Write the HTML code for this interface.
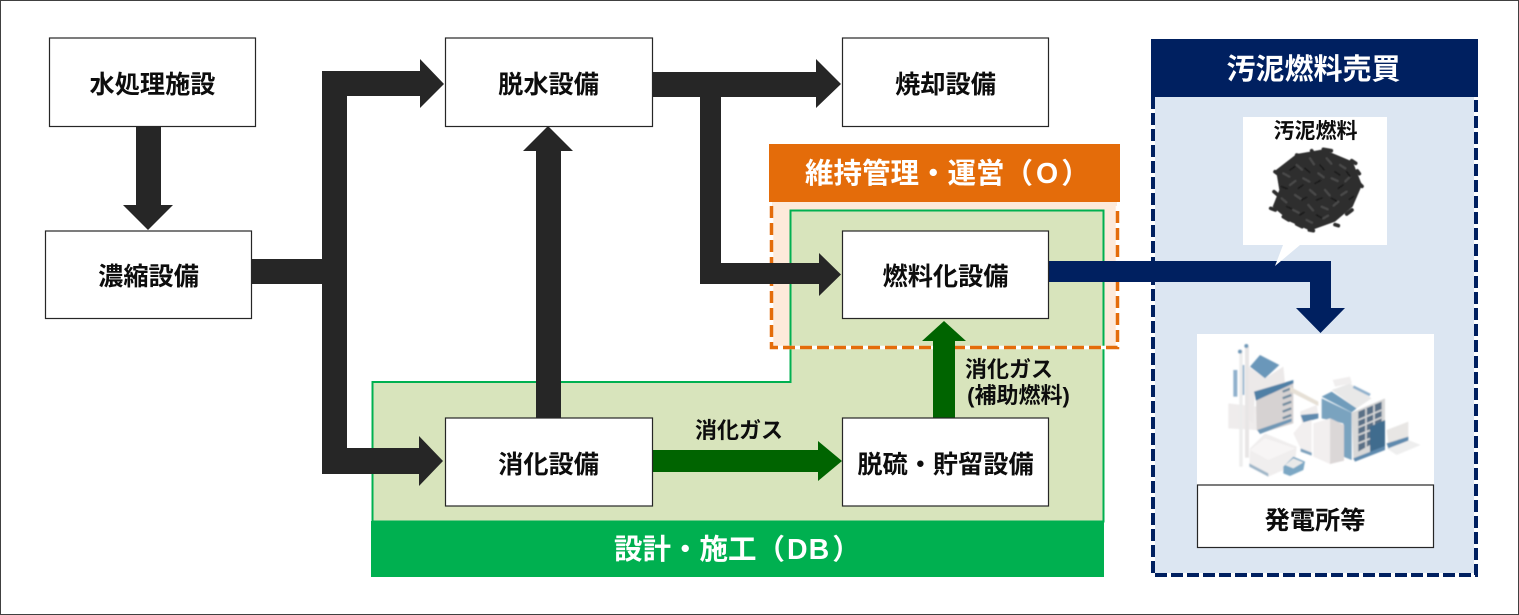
<!DOCTYPE html>
<html lang="ja"><head><meta charset="utf-8"><title>汚泥燃料化 事業スキーム</title>
<style>
html,body{margin:0;padding:0;background:#fff;width:1519px;height:615px;overflow:hidden}
svg{display:block}
text{font-family:"Liberation Sans","Noto Sans CJK JP",sans-serif;font-weight:700;text-anchor:middle}
.b{font-size:25.2px;fill:#0d0d0d}
.s{font-size:22px;fill:#0d0d0d}
.h{fill:#fff}
.st{text-anchor:start}
.box{fill:#fff;stroke:#262626;stroke-width:1.2}
</style></head><body>
<svg width="1519" height="615" viewBox="0 0 1519 615" xmlns="http://www.w3.org/2000/svg">
<defs>
<filter id="bl" x="-5%" y="-5%" width="110%" height="110%"><feGaussianBlur stdDeviation="2.4"/></filter>
<filter id="bp" x="-5%" y="-5%" width="110%" height="110%"><feGaussianBlur stdDeviation="1.6"/></filter>
</defs>
<rect x="0.5" y="0.5" width="1518" height="614" fill="#fff" stroke="#404040"/>

<!-- orange section -->
<rect x="772" y="202" width="345" height="146" fill="#FDEADA"/>
<!-- green section -->
<path d="M372.5 382H790.5V210.5H1103.5V521.5H372.5Z" fill="#D8E4BC" stroke="#00B050" stroke-width="2"/>
<rect x="371" y="521" width="733" height="56" fill="#00B050"/>
<!-- orange dashed: left, bottom, right -->
<path d="M771.500 206V347.500H1117.500V206" fill="none" stroke="#fff" stroke-width="3.500"/>
<path d="M771.500 206V347.500H1117.500V206" fill="none" stroke="#E46C0A" stroke-width="3.500" stroke-dasharray="12 5"/>
<rect x="769" y="144" width="351" height="58" fill="#E46C0A"/>

<!-- blue section -->
<rect x="1152" y="97" width="325" height="479" fill="#DCE6F2"/>
<path d="M1153 97V575H1476V97" fill="none" stroke="#fff" stroke-width="4"/>
<path d="M1153 97V575H1476V97" fill="none" stroke="#002060" stroke-width="4" stroke-dasharray="12 4"/>
<rect x="1151" y="39" width="327" height="58" fill="#002060"/>

<!-- dark arrows -->
<g fill="#262626">
<path d="M136 126H161V205H173L148 230L123 205H136Z"/>
<path d="M251 259H322V71H347V71H420V59L444 84L420 108V96H347V448H419V436L443 461L419 486V474H322V284H251Z"/>
<path d="M536 418V151H523L548 126L573 151H561V418Z"/>
<path d="M652 72H816V59L841 84L816 108V97H721V263H819V253L841 274.500L819 296V284H700V97H652Z"/>
</g>
<!-- green arrows -->
<g fill="#006400">
<path d="M652 450H818V441L842 461L818 481V472H652Z"/>
<path d="M933 418V341H922L944 321L966 341H955V418Z"/>
</g>
<!-- navy arrow -->
<path d="M1048 261H1331V308H1345L1320.500 333L1296 308H1310V282H1048Z" fill="#002060"/>

<!-- boxes -->
<rect class="box" x="49.500" y="38" width="206" height="88.500"/>
<rect class="box" x="45.500" y="231" width="206" height="87.500"/>
<rect class="box" x="445.500" y="38" width="207" height="88.500"/>
<rect class="box" x="842.500" y="38" width="206" height="88.500"/>
<rect class="box" x="842.500" y="231" width="206" height="87.500"/>
<rect class="box" x="445.500" y="418" width="207" height="88"/>
<rect class="box" x="842.500" y="418" width="206" height="88"/>

<text class="b" x="152.500" y="93">水処理施設</text>
<text class="b" x="148.500" y="285">濃縮設備</text>
<text class="b" x="548.500" y="93">脱水設備</text>
<text class="b" x="945.500" y="93">焼却設備</text>
<text class="b" x="945.500" y="285">燃料化設備</text>
<text class="b" x="548.500" y="473">消化設備</text>
<text class="b" x="945.500" y="473">脱硫・貯留設備</text>

<text class="s" x="739" y="438">消化ガス</text>
<text class="s" x="1009" y="377">消化ガス</text>
<text class="s" x="1018.500" y="403">(補助燃料)</text>

<text class="h st" x="805" y="183" font-size="28.500">維持管理・運営（<tspan dx="3">O</tspan><tspan dx="3">）</tspan></text>
<text class="h st" x="614" y="559" font-size="28.500">設計・施工（<tspan dx="2">D</tspan><tspan dx="1">B</tspan><tspan dx="3">）</tspan></text>
<text class="h" x="1313.500" y="79" font-size="29">汚泥燃料売買</text>

<!-- callout -->
<path d="M1243 117H1387V245H1300L1275 266L1283 245H1243Z" fill="#fff"/>
<text x="1315.500" y="138" font-size="21" fill="#0d0d0d">汚泥燃料</text>

<!-- pellets (drawn in 3x coordinates) -->
<g transform="translate(1150 90) scale(.33333)">
<g filter="url(#bp)" fill="none" stroke-linecap="round">
<path d="M378 240L440 192L520 178L608 215L636 285L608 350L555 395L480 422L420 395L368 350L388 300Z" fill="#2e2e2e"/>
<path stroke="#2e2e2e" stroke-width="11" d="M375 245l16 12M362 355l14 5M372 305l14 12M622 243l6 8M630 283l6 6M555 404l10 3M520 178l24 4M485 182l10 16M440 195l18 6M605 212l12 8M478 420l12 2M440 402l16 8M590 372l16-12M400 380l16 10"/>
<path stroke="#484848" stroke-width="7" d="M400 250l18 10M440 225l16 14M480 205l12 18M530 205l14 16M570 225l16 10M600 260l-14 14M420 285l16-12M460 265l18 10M505 250l16 12M545 265l18 8M590 305l-16 10M395 325l14 12M435 315l18 12M480 300l16 14M525 300l14 16M565 335l-14 12M430 360l16 8M475 345l14 16M515 350l18 8M470 390l16 8M520 385l14-8"/>
<path stroke="#1a1a1a" stroke-width="5" d="M420 240l14-10M465 235l14 12M510 225l12 14M555 245l14 10M395 290l16 6M445 295l14-10M495 280l16-8M565 295l14-10M410 350l14 6M455 330l14-8M500 330l16-6M545 325l14 8M500 375l14 8M450 375l12-8M590 245l10 14M610 320l-12 8"/>
</g>
</g>

<!-- plant picture -->
<rect x="1197" y="334" width="237" height="151" fill="#fff"/>
<g transform="translate(1150 90) scale(.33333)">
<g filter="url(#bl)">
<path d="M710 1075L775 1050L812 1065L740 1095Z" fill="#eeeeee"/>
<path d="M235 940L320 950V1020L235 1015Z" fill="#efecec"/>
<rect x="250" y="840" width="12" height="80" fill="#8fb0cc"/>
<rect x="275" y="825" width="8" height="90" fill="#8fb0cc"/>
<path d="M296 830L345 865L400 830L405 880L315 905L310 1000L296 990Z" fill="#ece9e9"/>
<path d="M300 830L330 795L388 825L345 865Z" fill="#6b97ba"/>
<path d="M318 915L430 875V1000L330 1030L320 1020Z" fill="#d6d2d2"/>
<path d="M312 905L430 870V880L318 932Z" fill="#4f7fa5"/>
<path d="M322 1020L425 985V995L330 1032Z" fill="#6f97b5"/>
<path stroke="#6f8a9e" stroke-width="7" fill="none" d="M398 905l26-10M398 925l26-10M398 945l26-10M398 965l26-10M398 985l26-10"/>
<rect x="268" y="780" width="10" height="350" fill="#ececec"/>
<rect x="285" y="768" width="12" height="335" fill="#e8e6e6"/>
<circle cx="270" cy="785" r="6" fill="#6e98b8"/><circle cx="289" cy="768" r="6" fill="#6e98b8"/>
<path d="M420 890L505 935V948L420 905Z" fill="#e6e0d6"/>
<path d="M450 965L500 945L505 975L455 1000Z" fill="#f0eded"/>
<path d="M452 975L505 970V985L460 997Z" fill="#5e8aae"/>
<path d="M430 1030L455 1000L485 990V1095L455 1082Z" fill="#f2efef"/>
<path d="M452 1075L485 1088V1097L452 1085Z" fill="#7ca0bc"/>
<path d="M515 925L605 968V1110L580 1100V1000L515 985Z" fill="#7aa3bf"/>
<path d="M490 1000L540 985L582 1005V1112L540 1122L490 1100Z" fill="#f2efef"/>
<path d="M540 985L582 1005V1112L540 1122Z" fill="#dbd7d7"/>
<path d="M515 920L545 905L620 955L605 967Z" fill="#6f9cbb"/>
<path d="M545 900L600 880L665 925L620 955Z" fill="#e8e8e8"/>
<path d="M548 870L600 860L606 880L555 890Z" fill="#f0eeee"/>
<path d="M610 890L660 915" stroke="#8fb0cc" stroke-width="8"/>
<path d="M605 968L705 925V1075L610 1110Z" fill="#d8d8d8"/>
<path d="M625 965L695 935V1000L660 1012V1065L625 1085Z" fill="#5a7086"/>
<path stroke="#d8d8d8" stroke-width="5" fill="none" d="M625 990l70-30M625 1012l70-30M625 1035l35-14M625 1060l35-14M648 955v130M672 945v60"/>
<path d="M660 1010L705 990V1075L660 1095Z" fill="#3f6c8e"/>
<path d="M610 1105L705 1068V1080L615 1115Z" fill="#5e8aae"/>
<path d="M710 1020L775 995V1045L715 1065Z" fill="#e8e6e4"/>
<path d="M710 1060L775 1040V1052L715 1075Z" fill="#5f8aae"/>
<path d="M300 1075L345 1030L440 1070L435 1125L355 1160L298 1125Z" fill="#f0eeee"/>
<path d="M300 1080L345 1045L435 1075L355 1110Z" fill="#f7f5f5"/>
<path d="M298 1120L355 1150V1160L298 1130Z" fill="#9fb6c8"/>
<path d="M400 1130L430 1100L465 1115L460 1140L420 1158L400 1150Z" fill="#7ca7c4"/>
<path d="M405 1125L430 1105L460 1117L430 1135Z" fill="#e9e9e9"/>
</g>
</g>

<rect class="box" x="1197.500" y="485" width="236" height="62.500"/>
<text class="b" x="1315" y="529">発電所等</text>
</svg>
</body></html>
